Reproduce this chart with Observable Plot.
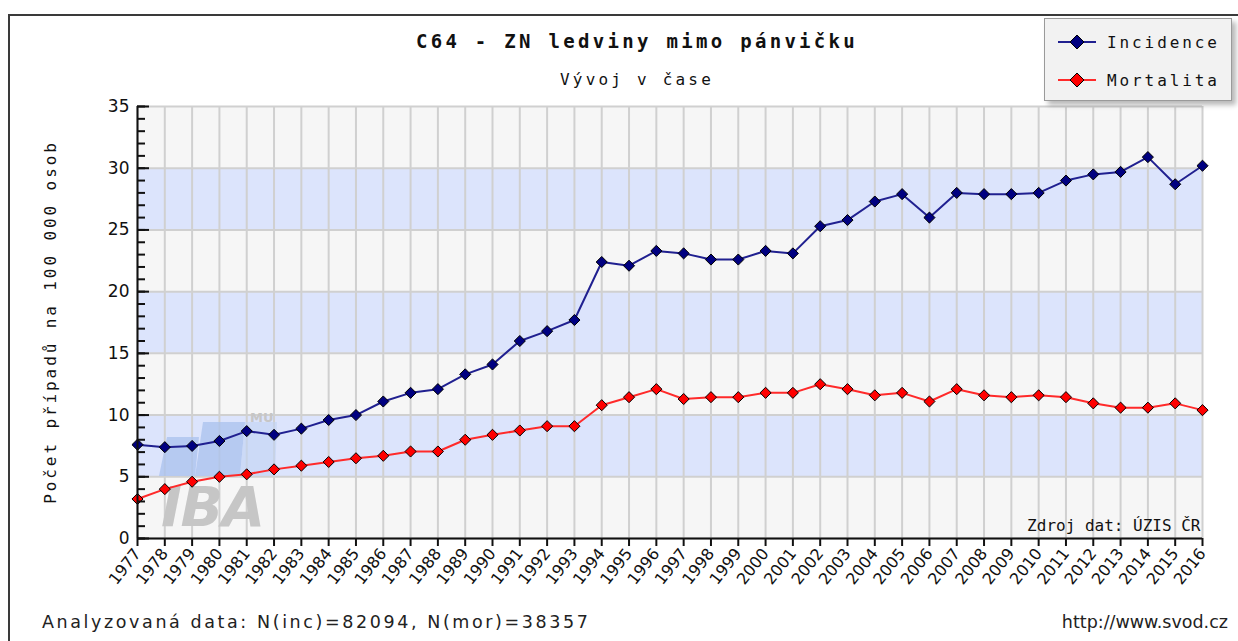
<!DOCTYPE html>
<html>
<head>
<meta charset="utf-8">
<script src="https://cdn.jsdelivr.net/npm/d3@7"></script>
<script src="https://cdn.jsdelivr.net/npm/@observablehq/plot@0.6"></script>
<style>
  html, body { margin: 0; padding: 0; background: #fff; }
  #wrap { position: relative; width: 1238px; height: 641px; overflow: hidden; background: #fff; }
  #frame { position: absolute; left: 8px; top: 14px; width: 1260px; height: 660px; border: 2px solid #3a3a3a; box-sizing: border-box; }
  .mono { font-family: "DejaVu Sans Mono", "Liberation Mono", monospace; color: #111; }
  #title { position: absolute; left: 0; width: 1274px; top: 30px; text-align: center; font-size: 19px; font-weight: bold; letter-spacing: 3.3px; line-height: 22px; }
  #subtitle { position: absolute; left: 0; width: 1274px; top: 70px; text-align: center; font-size: 16px; letter-spacing: 3.2px; line-height: 20px; }
  #ylabel { position: absolute; left: 50px; top: 322px; transform: translate(-50%, -50%) rotate(-90deg); white-space: nowrap; font-size: 16px; letter-spacing: 2.9px; }
  #legend { position: absolute; left: 1044px; top: 18px; width: 188px; height: 83px; background: #f2f2f2; border: 1px solid #9a9a9a; box-sizing: border-box; box-shadow: 4px 4px 5px rgba(0,0,0,0.28); }
  .leg { position: absolute; left: 12px; height: 24px; display: flex; align-items: center; }
  .leg span { margin-left: 10px; font-size: 16px; letter-spacing: 2.9px; }
  .foot { position: absolute; top: 612px; font-family: "DejaVu Sans", sans-serif; font-size: 17.5px; color: #222; }
  #chart { position: absolute; left: 0; top: 0; }
</style>
</head>
<body>
<div id="wrap">
  <div id="frame"></div>
  <div id="chart"></div>
  <div id="title" class="mono"></div>
  <div id="subtitle" class="mono"></div>
  <div id="ylabel" class="mono"></div>
  <div id="legend"></div>
  <div id="footL" class="foot" style="left:42px; letter-spacing:2.6px"></div>
  <div id="footR" class="foot" style="right:10px"></div>
</div>
<script>
// ---- data ----
const years = d3.range(1977, 2017);
const incidence = [7.6, 7.4, 7.5, 7.9, 8.7, 8.4, 8.9, 9.6, 10.0, 11.1, 11.8, 12.1, 13.3, 14.1, 16.0, 16.8, 17.7, 22.4, 22.1, 23.3, 23.1, 22.6, 22.6, 23.3, 23.1, 25.3, 25.8, 27.3, 27.9, 26.0, 28.0, 27.9, 27.9, 28.0, 29.0, 29.5, 29.7, 30.9, 28.7, 30.2];
const mortality = [3.2, 4.0, 4.6, 5.0, 5.2, 5.6, 5.9, 6.2, 6.5, 6.7, 7.05, 7.05, 8.0, 8.4, 8.75, 9.1, 9.1, 10.8, 11.45, 12.1, 11.3, 11.45, 11.45, 11.8, 11.8, 12.5, 12.1, 11.6, 11.8, 11.1, 12.1, 11.6, 11.45, 11.6, 11.45, 10.95, 10.6, 10.6, 10.95, 10.4];
const yTicks = [0, 5, 10, 15, 20, 25, 30, 35];
const yMinorTicks = d3.range(0, 36);
const seriesNames = ["Incidence", "Mortalita"];
const seriesFill = ["#000080", "#ff0000"];
const seriesLine = ["#202090", "#ff2a2a"];
const titleText = "C64 - ZN ledviny mimo pánvičku";
const subtitleText = "Vývoj v čase";
const yLabelText = "Počet případů na 100 000 osob";
const sourceText = "Zdroj dat: ÚZIS ČR";
const footLeftText = "Analyzovaná data: N(inc)=82094, N(mor)=38357";
const footRightText = "http://www.svod.cz";

// ---- derived tables ----
const rows = [];
years.forEach((yr, i) => {
  rows.push({year: yr, value: incidence[i], series: seriesNames[0]});
  rows.push({year: yr, value: mortality[i], series: seriesNames[1]});
});
const bands = yTicks.slice(0, -1).map((t, i) => ({y1: t, y2: yTicks[i + 1], fill: i % 2 === 0 ? "#f6f6f6" : "#dce4fc"}));
const x0 = years[0], x1 = years[years.length - 1];

// watermark logo (decoration only)
function logo(index, scales, values, dims) {
  const g = d3.create("svg:g").attr("text-anchor", "start");
  const bx = dims.marginLeft, by = dims.height - dims.marginBottom;
  g.append("path").attr("d", `M${bx+22},${by-62} L${bx+58},${by-62} L${bx+62},${by-101} L${bx+30},${by-101} Z`).attr("fill", "#a9c2ee").attr("opacity", 0.75);
  g.append("path").attr("d", `M${bx+58},${by-62} L${bx+103},${by-62} L${bx+108},${by-116} L${bx+66},${by-116} Z`).attr("fill", "#a9c2ee").attr("opacity", 0.75);
  g.append("path").attr("d", `M${bx+103},${by-62} L${bx+138},${by-62} L${bx+140},${by-116} L${bx+108},${by-116} Z`).attr("fill", "#c2d3f3").attr("opacity", 0.6);
  g.append("text").attr("x", bx + 24).attr("y", by - 12).attr("font-family", "DejaVu Sans, sans-serif").attr("font-weight", "bold").attr("font-style", "italic").attr("font-size", 56).attr("fill", "#c6c6c6").attr("textLength", 104).text("IBA");
  g.append("text").attr("x", bx + 113).attr("y", by - 116).attr("font-family", "DejaVu Sans, sans-serif").attr("font-weight", "bold").attr("font-size", 13).attr("fill", "#c6c6c6").text("MU");
  return g.node();
}

const chart = Plot.plot({
  width: 1238,
  height: 641,
  marginLeft: 137,
  marginRight: 36,
  marginTop: 106,
  marginBottom: 103,
  style: {background: "transparent", fontFamily: "DejaVu Sans, sans-serif", color: "#111"},
  x: {domain: [x0, x1], axis: null, label: null},
  y: {domain: [0, 35], axis: null, label: null},
  marks: [
    Plot.rect(bands, {x1: () => x0, x2: () => x1, y1: "y1", y2: "y2", fill: "fill"}),
    Plot.ruleX(years, {stroke: "#d0d0d0", strokeWidth: 2}),
    Plot.ruleY(yTicks, {stroke: "#d0d0d0", strokeWidth: 2}),
    logo,
    Plot.line(rows, {x: "year", y: "value", z: "series", stroke: "series", strokeWidth: 2}),
    Plot.dot(rows, {x: "year", y: "value", fill: "series", symbol: "diamond2", r: 5, stroke: "#000", strokeWidth: 1}),
    Plot.text([sourceText], {frameAnchor: "bottom-right", dx: -2, dy: -8, fontFamily: "DejaVu Sans Mono, monospace", fontSize: 16, textAnchor: "end", fill: "#111", style: "letter-spacing:2.9px"}),
    // inward y ticks: minor every unit, major every 5
    Plot.tickY(yMinorTicks, {y: d => d, stroke: "#111", strokeWidth: 2, insetRight: 1057}),
    Plot.tickY(yTicks, {y: d => d, stroke: "#111", strokeWidth: 2, insetRight: 1053}),
    Plot.axisY(yTicks, {tickSize: 0, tickPadding: 8, fontSize: 17, label: null}),
    Plot.axisX(years, {tickSize: 8, tickRotate: -52, tickFormat: d => String(d), fontSize: 16, strokeWidth: 2, stroke: "#111", tickPadding: 4, label: null}),
    Plot.ruleX([x0], {stroke: "#111", strokeWidth: 2}),
    Plot.ruleY([0], {stroke: "#111", strokeWidth: 2})
  ],
  color: {domain: seriesNames, range: seriesLine}
});
document.getElementById("chart").append(chart);
// dot fills use the pure colours; lines use the slightly softer ones
d3.select(chart).selectAll("g[aria-label='dot'] path").each(function() {
  const f = d3.select(this).attr("fill");
  const idx = seriesLine.indexOf(f);
  if (idx >= 0) d3.select(this).attr("fill", seriesFill[idx]);
});

document.getElementById("title").textContent = titleText;
document.getElementById("subtitle").textContent = subtitleText;
document.getElementById("ylabel").textContent = yLabelText;
document.getElementById("footL").textContent = footLeftText;
document.getElementById("footR").textContent = footRightText;

// legend
const leg = document.getElementById("legend");
seriesNames.forEach((name, i) => {
  const row = document.createElement("div");
  row.className = "leg";
  row.style.top = (11 + i * 38) + "px";
  const svg = d3.create("svg").attr("width", 40).attr("height", 20);
  svg.append("line").attr("x1", 1).attr("x2", 39).attr("y1", 10).attr("y2", 10).attr("stroke", seriesLine[i]).attr("stroke-width", 2);
  svg.append("path").attr("d", "M20,3 L27,10 L20,17 L13,10 Z").attr("fill", seriesFill[i]).attr("stroke", "#000");
  row.append(svg.node());
  const sp = document.createElement("span");
  sp.className = "mono";
  sp.textContent = name;
  row.append(sp);
  leg.append(row);
});
</script>
</body>
</html>
